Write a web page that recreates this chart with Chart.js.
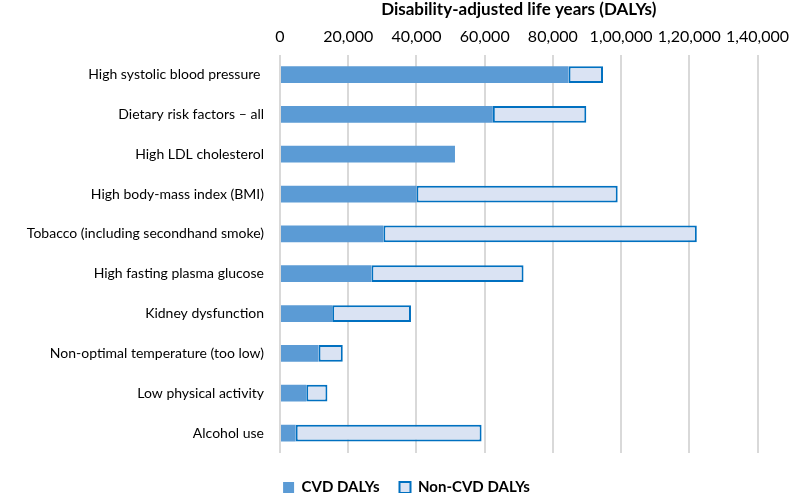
<!DOCTYPE html>
<html>
<head>
<meta charset="utf-8">
<script src="https://cdn.jsdelivr.net/npm/chart.js@4"></script>
<style>
  html, body { margin: 0; padding: 0; background: #fff; }
  #wrap { width: 797px; height: 493px; }
</style>
</head>
<body>
<div id="wrap"><canvas id="dalys"></canvas></div>
<script>
// risk factors, top to bottom
var riskFactors = [
  'High systolic blood pressure ',
  'Dietary risk factors \u2013 all',
  'High LDL cholesterol',
  'High body-mass index (BMI)',
  'Tobacco (including secondhand smoke)',
  'High fasting plasma glucose',
  'Kidney dysfunction',
  'Non-optimal temperature (too low)',
  'Low physical activity',
  'Alcohol use'
];
var cvdDalys = [84600, 62400, 51300, 40000, 30300, 26800, 15300, 11300, 7700, 4600];
var nonCvdDalys = [10100, 27400, 0, 59000, 91900, 44600, 23100, 7100, 6200, 54500];
var xTicks = [0, 20000, 40000, 60000, 80000, 100000, 120000, 140000];

// indian digit grouping: 1,20,000
function indianFormat(n) {
  var s = String(Math.round(n));
  if (s.length <= 3) return s;
  var last = s.slice(-3);
  var rest = s.slice(0, -3);
  rest = rest.replace(/\B(?=(\d{2})+(?!\d))/g, ',');
  return rest + ',' + last;
}

Chart.defaults.font.family = 'Lato, "Open Sans", sans-serif';
Chart.defaults.font.size = 14;
Chart.defaults.color = '#000';

var ctx = document.getElementById('dalys').getContext('2d');
var chartDalys = new Chart(ctx, {
  type: 'bar',
  data: {
    labels: riskFactors,
    datasets: [{
      label: 'CVD DALYs',
      data: cvdDalys,
      backgroundColor: '#5B9BD5',
      borderWidth: 0,
      barPercentage: 0.42,
      categoryPercentage: 1
    }, {
      label: 'Non-CVD DALYs',
      data: nonCvdDalys,
      backgroundColor: '#DAE3F3',
      borderColor: '#0070C0',
      borderWidth: 2,
      borderSkipped: false,
      barPercentage: 0.42,
      categoryPercentage: 1
    }]
  },
  options: {
    indexAxis: 'y',
    responsive: true,
    maintainAspectRatio: false,
    animation: false,
    layout: { padding: { left: 16, right: 0, top: -1, bottom: -12 } },
    plugins: {
      tooltip: { enabled: false },
      legend: {
        position: 'bottom',
        labels: {
          boxWidth: 11,
          boxHeight: 11,
          padding: 20,
          font: { weight: 'bold', size: 15 },
          generateLabels: function(chart) {
            return chart.data.datasets.map(function(ds, i) {
              return {
                text: ds.label,
                fillStyle: ds.backgroundColor,
                strokeStyle: i === 1 ? ds.borderColor : ds.backgroundColor,
                lineWidth: i === 1 ? 2 : 0,
                datasetIndex: i,
                fontColor: '#000'
              };
            });
          }
        }
      }
    },
    scales: {
      x: {
        position: 'top',
        stacked: true,
        min: 0,
        max: 140000,
        afterBuildTicks: function(scale) {
          scale.ticks = xTicks.map(function(v) { return { value: v }; });
        },
        ticks: {
          padding: 8,
          maxRotation: 0,
          font: { size: 16 },
          callback: function(v) { return indianFormat(v); }
        },
        grid: { color: '#D9D9D9', lineWidth: 2, drawTicks: false },
        border: { display: false },
        title: {
          display: true,
          text: 'Disability-adjusted life years (DALYs)',
          font: { weight: 'bold', size: 17 },
          padding: { top: 0, bottom: 0 }
        }
      },
      // empty spacer below the plot, keeps the legend low
      gap: {
        type: 'linear',
        axis: 'x',
        position: 'bottom',
        ticks: { display: false },
        grid: { display: false, drawTicks: false },
        border: { display: false },
        afterFit: function(scale) { scale.height = 7; }
      },
      y: {
        stacked: true,
        afterFit: function(scale) { scale.width = 264; },
        ticks: { padding: 16, color: '#000' },
        grid: { display: false, drawTicks: false },
        border: { display: false }
      }
    }
  }
});
</script>
</body>
</html>
